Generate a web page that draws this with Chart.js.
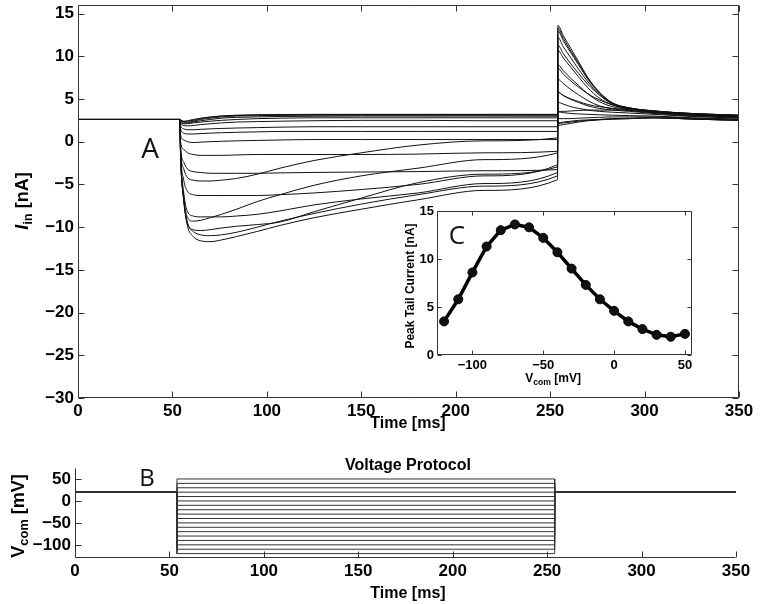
<!DOCTYPE html>
<html>
<head>
<meta charset="utf-8">
<script src="https://cdn.jsdelivr.net/npm/chart.js@4.4.0/dist/chart.umd.min.js"></script>
<style>
  body { margin: 0; background: #fff; width: 760px; height: 604px; position: relative; overflow: hidden;
         font-family: "Liberation Sans", Arial, sans-serif; }
  canvas { position: absolute; }
  .lbl { position: absolute; font-weight: bold; color: #000; white-space: nowrap; transform: translate(-50%, -50%); }
  .rot { transform: translate(-50%, -50%) rotate(-90deg); }
  .tag { position: absolute; font-family: "Open Sans", sans-serif; color: #111; transform: translate(-50%, -50%); }
  sub { font-size: 72%; vertical-align: -0.35em; line-height: 0; }
</style>
</head>
<body>
<canvas id="main" width="760" height="440" style="left:0;top:0"></canvas>
<canvas id="proto" width="760" height="164" style="left:0;top:440px"></canvas>
<canvas id="inset" width="320" height="195" style="left:380px;top:195px"></canvas>

<div class="lbl rot" style="left:22px;top:201px;font-size:18px"><i>I</i><sub>in</sub> [nA]</div>
<div class="lbl" style="left:408px;top:423px;font-size:16px">Time [ms]</div>
<div class="tag" style="left:150px;top:147px;font-size:28px">A</div>
<div class="tag" style="left:457px;top:234px;font-size:26px">C</div>
<div class="tag" style="left:147px;top:476px;font-size:24px">B</div>
<div class="lbl" style="left:408px;top:465px;font-size:16px">Voltage Protocol</div>
<div class="lbl rot" style="left:18px;top:516px;font-size:18px">V<sub>com</sub> [mV]</div>
<div class="lbl" style="left:408px;top:593px;font-size:16px">Time [ms]</div>
<div class="lbl rot" style="left:410px;top:286px;font-size:12px">Peak Tail Current [nA]</div>
<div class="lbl" style="left:553px;top:378px;font-size:12px">V<sub>com</sub> [mV]</div>

<script>
// --- data ---
var vCom = [-120, -110, -100, -90, -80, -70, -60, -50, -40, -30, -20, -10, 0, 10, 20, 30, 40, 50];
var peakTail = [3.5, 5.8, 8.6, 11.3, 13.0, 13.6, 13.3, 12.2, 10.7, 9.0, 7.3, 5.8, 4.6, 3.5, 2.7, 2.1, 1.9, 2.2];

var timeHold = [0, 53.9];
var iHold = 2.6;
var timeStep = [54.3, 56, 58, 61, 65, 70, 76, 84, 95, 107, 125, 150, 180, 215, 253.9];
var timeTail = [254.1, 257, 261, 265, 270, 276, 283, 292, 305, 325, 350];

// current during the step, one list per command voltage
var iStepM120 = [-1.5, -6.5, -8.9, -9.3, -9.2, -8.9, -8.5, -7.9, -7.0, -6.2, -5.1, -4.0, -3.1, -2.1, -1.31];
var iStepM110 = [-1.5, -6.8, -9.6, -10.3, -10.4, -10.3, -10.1, -9.9, -9.7, -9.4, -8.2, -6.6, -4.8, -3.8, -2.95];
var iStepM100 = [-1.5, -7.0, -9.9, -11.1, -11.6, -11.7, -11.5, -11.1, -10.5, -9.8, -8.9, -7.9, -6.8, -5.7, -4.44];
var iStepM90 = [-1.5, -6.8, -9.5, -10.5, -10.9, -11.0, -10.9, -10.6, -10.0, -9.3, -8.4, -7.3, -6.2, -5.2, -4.0];
var iStepM80 = [-1.2, -6.0, -8.2, -8.7, -8.8, -8.8, -8.8, -8.7, -8.5, -8.1, -7.4, -6.7, -6.0, -4.9, -3.6];
var iStepM70 = [-1.0, -4.5, -5.8, -6.2, -6.3, -6.3, -6.3, -6.3, -6.3, -6.2, -6.0, -5.6, -5.0, -4.0, -2.69];
var iStepM60 = [-0.8, -3.2, -4.2, -4.5, -4.6, -4.6, -4.5, -4.3, -3.8, -3.1, -2.2, -1.3, -0.4, 0.1, 0.44];
var iStepM50 = [-0.5, -2.4, -3.2, -3.5, -3.6, -3.7, -3.7, -3.7, -3.7, -3.65, -3.6, -3.55, -3.5, -3.4, -3.27];
var iStepM40 = [0, -0.9, -1.3, -1.5, -1.6, -1.6, -1.6, -1.55, -1.5, -1.5, -1.5, -1.5, -1.45, -1.3, -1.12];
var iStepM30 = [0.8, 0.2, 0.0, -0.1, -0.05, 0.0, 0.05, 0.1, 0.15, 0.2, 0.25, 0.25, 0.25, 0.25, 0.25];
var iStepM20 = [1.5, 1.0, 0.9, 0.9, 0.95, 1.0, 1.05, 1.1, 1.15, 1.2, 1.2, 1.2, 1.2, 1.2, 1.2];
var iStepM10 = [1.9, 1.5, 1.4, 1.4, 1.45, 1.5, 1.55, 1.6, 1.65, 1.7, 1.75, 1.75, 1.75, 1.75, 1.75];
var iStep0 = [2.2, 1.9, 1.85, 1.9, 2.0, 2.1, 2.2, 2.3, 2.35, 2.4, 2.45, 2.5, 2.5, 2.45, 2.45];
var iStepP10 = [2.3, 2.1, 2.1, 2.2, 2.3, 2.4, 2.5, 2.6, 2.7, 2.75, 2.8, 2.8, 2.8, 2.8, 2.79];
var iStepP20 = [2.4, 2.2, 2.2, 2.3, 2.45, 2.6, 2.75, 2.85, 2.9, 2.95, 2.98, 3.0, 3.0, 3.0, 2.98];
var iStepP30 = [2.5, 2.3, 2.3, 2.4, 2.6, 2.75, 2.9, 3.0, 3.05, 3.08, 3.1, 3.1, 3.1, 3.1, 3.1];
var iStepP40 = [2.5, 2.35, 2.4, 2.5, 2.7, 2.85, 2.98, 3.07, 3.12, 3.15, 3.17, 3.17, 3.17, 3.17, 3.17];
var iStepP50 = [2.55, 2.4, 2.45, 2.6, 2.75, 2.9, 3.02, 3.1, 3.15, 3.18, 3.2, 3.2, 3.2, 3.2, 3.2];

// tail current after return to the holding potential
var iTailM120 = [3.5, 3.55, 3.6, 3.65, 3.7, 3.7, 3.7, 3.65, 3.4, 3.1, 2.9];
var iTailM110 = [5.8, 5.4, 5.0, 4.7, 4.35, 4.1, 3.9, 3.75, 3.45, 3.15, 2.95];
var iTailM100 = [8.6, 7.9, 7.1, 6.4, 5.6, 4.9, 4.3, 3.85, 3.5, 3.2, 3.0];
var iTailM90 = [11.3, 10.3, 9.1, 8.0, 6.7, 5.5, 4.5, 3.9, 3.55, 3.25, 3.05];
var iTailM80 = [13.0, 11.8, 10.4, 9.0, 7.3, 5.7, 4.5, 3.95, 3.6, 3.3, 3.1];
var iTailM70 = [13.6, 12.4, 10.9, 9.4, 7.5, 5.8, 4.55, 3.95, 3.6, 3.3, 3.1];
var iTailM60 = [13.3, 12.1, 10.6, 9.2, 7.4, 5.8, 4.5, 3.95, 3.6, 3.3, 3.1];
var iTailM50 = [12.2, 11.1, 9.8, 8.5, 7.0, 5.5, 4.4, 3.9, 3.55, 3.25, 3.05];
var iTailM40 = [10.7, 9.8, 8.7, 7.6, 6.3, 5.1, 4.3, 3.85, 3.5, 3.2, 3.0];
var iTailM30 = [9.0, 8.3, 7.4, 6.6, 5.6, 4.7, 4.1, 3.8, 3.45, 3.15, 2.95];
var iTailM20 = [7.3, 6.8, 6.1, 5.5, 4.8, 4.2, 3.85, 3.65, 3.4, 3.1, 2.9];
var iTailM10 = [5.8, 5.4, 4.95, 4.6, 4.2, 3.9, 3.7, 3.55, 3.3, 3.0, 2.8];
var iTail0 = [4.6, 4.4, 4.1, 3.9, 3.7, 3.55, 3.45, 3.35, 3.2, 2.95, 2.75];
var iTailP10 = [3.5, 3.4, 3.3, 3.25, 3.2, 3.15, 3.1, 3.05, 3.0, 2.8, 2.65];
var iTailP20 = [2.7, 2.7, 2.7, 2.75, 2.8, 2.85, 2.9, 2.9, 2.9, 2.75, 2.6];
var iTailP30 = [2.1, 2.2, 2.3, 2.4, 2.5, 2.6, 2.7, 2.75, 2.8, 2.65, 2.5];
var iTailP40 = [1.9, 2.0, 2.15, 2.3, 2.45, 2.55, 2.65, 2.7, 2.8, 2.65, 2.5];
var iTailP50 = [2.2, 2.3, 2.4, 2.5, 2.55, 2.6, 2.65, 2.7, 2.8, 2.65, 2.5];

var stepCurrents = [iStepM120, iStepM110, iStepM100, iStepM90, iStepM80, iStepM70, iStepM60, iStepM50, iStepM40,
  iStepM30, iStepM20, iStepM10, iStep0, iStepP10, iStepP20, iStepP30, iStepP40, iStepP50];
var tailCurrents = [iTailM120, iTailM110, iTailM100, iTailM90, iTailM80, iTailM70, iTailM60, iTailM50, iTailM40,
  iTailM30, iTailM20, iTailM10, iTail0, iTailP10, iTailP20, iTailP30, iTailP40, iTailP50];

// voltage protocol
var vHold = 20;
var protoTimes = [0, 54, 254, 350];

// tick labels
var mainXTicks = [0, 50, 100, 150, 200, 250, 300, 350];
var mainYTicks = [-30, -25, -20, -15, -10, -5, 0, 5, 10, 15];
var protoYTicks = [-100, -50, 0, 50];
var insetXTicks = [-100, -50, 0, 50];
var insetYTicks = [0, 5, 10, 15];

// --- drawing ---
var FONT = '"Liberation Sans", Arial, sans-serif';

function minus(v) { return v < 0 ? '\u2212' + Math.abs(v) : String(v); }

function scale(min, max, tickList, fontSize, pad, fit, vertical) {
  return {
    type: 'linear', min: min, max: max,
    afterBuildTicks: function (s) { s.ticks = tickList.map(function (v) { return { value: v }; }); },
    afterFit: function (s) {
      if (vertical) s.width = fit; else s.height = fit;
      s.paddingLeft = s.paddingRight = s.paddingTop = s.paddingBottom = 0;
    },
    grid: { display: false, drawTicks: false },
    border: { display: false },
    ticks: {
      autoSkip: false, maxRotation: 0, padding: pad, color: '#000',
      font: { family: FONT, size: fontSize, weight: 'bold' },
      callback: function (v) { return minus(v); }
    }
  };
}

// ticks pointing inwards plus the axis lines, as in the original figure
var innerTicks = {
  id: 'innerTicks',
  beforeDraw: function (chart, args, o) {
    if (!o.fill) return;
    var a = chart.chartArea;
    chart.ctx.save();
    chart.ctx.fillStyle = '#fff';
    chart.ctx.fillRect(a.left, a.top, a.right - a.left, a.bottom - a.top);
    chart.ctx.restore();
  },
  afterDraw: function (chart, args, o) {
    var a = chart.chartArea, ctx = chart.ctx, len = o.len;
    var L = Math.round(a.left) + 0.5, R = Math.round(a.right) - 0.5;
    var T = Math.round(a.top) + 0.5, B = Math.round(a.bottom) - 0.5;
    ctx.save();
    ctx.strokeStyle = '#333';
    ctx.lineWidth = 1;
    ctx.beginPath();
    chart.scales.x.ticks.forEach(function (t) {
      var px = Math.round(chart.scales.x.getPixelForValue(t.value)) + 0.5;
      ctx.moveTo(px, B); ctx.lineTo(px, B - len);
      if (o.box) { ctx.moveTo(px, T); ctx.lineTo(px, T + len); }
    });
    chart.scales.y.ticks.forEach(function (t) {
      var py = Math.round(chart.scales.y.getPixelForValue(t.value)) + 0.5;
      ctx.moveTo(L, py); ctx.lineTo(L + len, py);
      if (o.box) { ctx.moveTo(R, py); ctx.lineTo(R - len, py); }
    });
    ctx.moveTo(L, T); ctx.lineTo(L, B); ctx.lineTo(R, B);
    if (o.box) { ctx.lineTo(R, T); ctx.lineTo(L, T); }
    ctx.stroke();
    ctx.restore();
  }
};

function baseOptions(padding) {
  return {
    responsive: false,
    animation: false,
    devicePixelRatio: 1,
    layout: { padding: padding },
    plugins: { legend: { display: false }, tooltip: { enabled: false } },
    elements: { point: { radius: 0 } }
  };
}

// panel A: current traces
var traceSets = vCom.map(function (v, k) {
  var pts = [];
  timeHold.forEach(function (t) { pts.push({ x: t, y: iHold }); });
  timeStep.forEach(function (t, i) { pts.push({ x: t, y: stepCurrents[k][i] }); });
  timeTail.forEach(function (t, i) { pts.push({ x: t, y: tailCurrents[k][i] }); });
  return {
    label: v + ' mV', data: pts, borderColor: '#111', borderWidth: 1,
    cubicInterpolationMode: 'monotone', pointRadius: 0
  };
});

var mainOpts = baseOptions({ left: 0, right: 21, top: 5, bottom: 0 });
mainOpts.scales = {
  x: scale(0, 350, mainXTicks, 17, 3, 42, false),
  y: scale(-30, 16, mainYTicks, 17, 4, 78, true)
};
mainOpts.plugins.innerTicks = { len: 6, box: true };
new Chart(document.getElementById('main'), {
  type: 'line', data: { datasets: traceSets }, options: mainOpts, plugins: [innerTicks]
});

// panel B: voltage protocol
var protoSets = vCom.map(function (v) {
  return {
    label: v + ' mV',
    data: [
      { x: protoTimes[0], y: vHold }, { x: protoTimes[1], y: vHold },
      { x: protoTimes[1], y: v }, { x: protoTimes[2], y: v },
      { x: protoTimes[2], y: vHold }, { x: protoTimes[3], y: vHold }
    ],
    borderColor: '#333', borderWidth: 1, tension: 0, pointRadius: 0
  };
});
var protoOpts = baseOptions({ left: 0, right: 24, top: 28, bottom: 0 });
protoOpts.scales = {
  x: scale(0, 350, mainXTicks, 17, 3, 46, false),
  y: scale(-130, 75, protoYTicks, 17, 4, 75, true)
};
protoOpts.plugins.innerTicks = { len: 6, box: false };
new Chart(document.getElementById('proto'), {
  type: 'line', data: { datasets: protoSets }, options: protoOpts, plugins: [innerTicks]
});

// panel C: peak tail current vs command voltage
var insetOpts = baseOptions({ left: 0, right: 8, top: 16, bottom: 0 });
insetOpts.scales = {
  x: scale(-125, 55, insetXTicks, 13, 3, 35, false),
  y: scale(0, 15, insetYTicks, 13, 3, 57, true)
};
insetOpts.plugins.innerTicks = { len: 4, box: true, fill: true };
new Chart(document.getElementById('inset'), {
  type: 'line',
  data: {
    datasets: [{
      label: 'Peak tail current',
      data: vCom.map(function (v, i) { return { x: v, y: peakTail[i] }; }),
      borderColor: '#000', borderWidth: 3.5, tension: 0,
      pointRadius: 4.5, pointBackgroundColor: '#111', pointBorderColor: '#000', pointBorderWidth: 1
    }]
  },
  options: insetOpts,
  plugins: [innerTicks]
});
</script>
</body>
</html>
